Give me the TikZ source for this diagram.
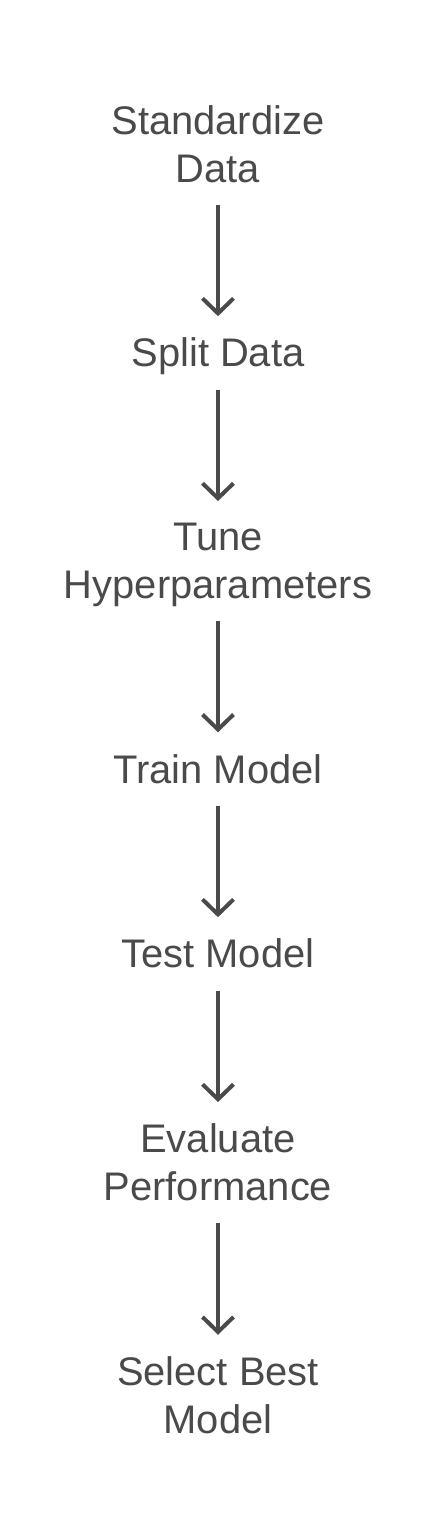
\documentclass[tikz,border=0pt]{standalone}
\usepackage{fontspec}
\setmainfont{Liberation Sans}
\usepackage{xcolor}
\usetikzlibrary{arrows.meta,positioning}
\definecolor{inkgray}{HTML}{4A4A4A}
\tikzset{
  stage/.style={align=center, inner sep=0pt, text=inkgray,
                font=\fontsize{22.7pt}{27.2pt}\selectfont,
                execute at begin node=\vphantom{Sd},
                execute at end node=\vphantom{p}},
  flow/.style={-{Straight Barb[length=0.3cm,width=0.62cm]}, draw=inkgray,
               line width=0.08cm, shorten <=0.28cm, shorten >=0.43cm},
}

\begin{document}
\begin{tikzpicture}[node distance=2.94cm]
  \useasboundingbox (0,0) rectangle (8.72,-30.8);
  \node[stage, anchor=north] (standardize) at (4.36,-2.1) {Standardize\\Data};
  \node[stage, below=of standardize] (split) {Split Data};
  \node[stage, below=of split] (tune) {Tune\\Hyperparameters};
  \node[stage, below=of tune] (train) {Train Model};
  \node[stage, below=of train] (test) {Test Model};
  \node[stage, below=of test] (evaluate) {Evaluate\\Performance};
  \node[stage, below=of evaluate] (select) {Select Best\\Model};
  \draw[flow] (standardize) -- (split);
  \draw[flow] (split) -- (tune);
  \draw[flow] (tune) -- (train);
  \draw[flow] (train) -- (test);
  \draw[flow] (test) -- (evaluate);
  \draw[flow] (evaluate) -- (select);
\end{tikzpicture}
\end{document}
